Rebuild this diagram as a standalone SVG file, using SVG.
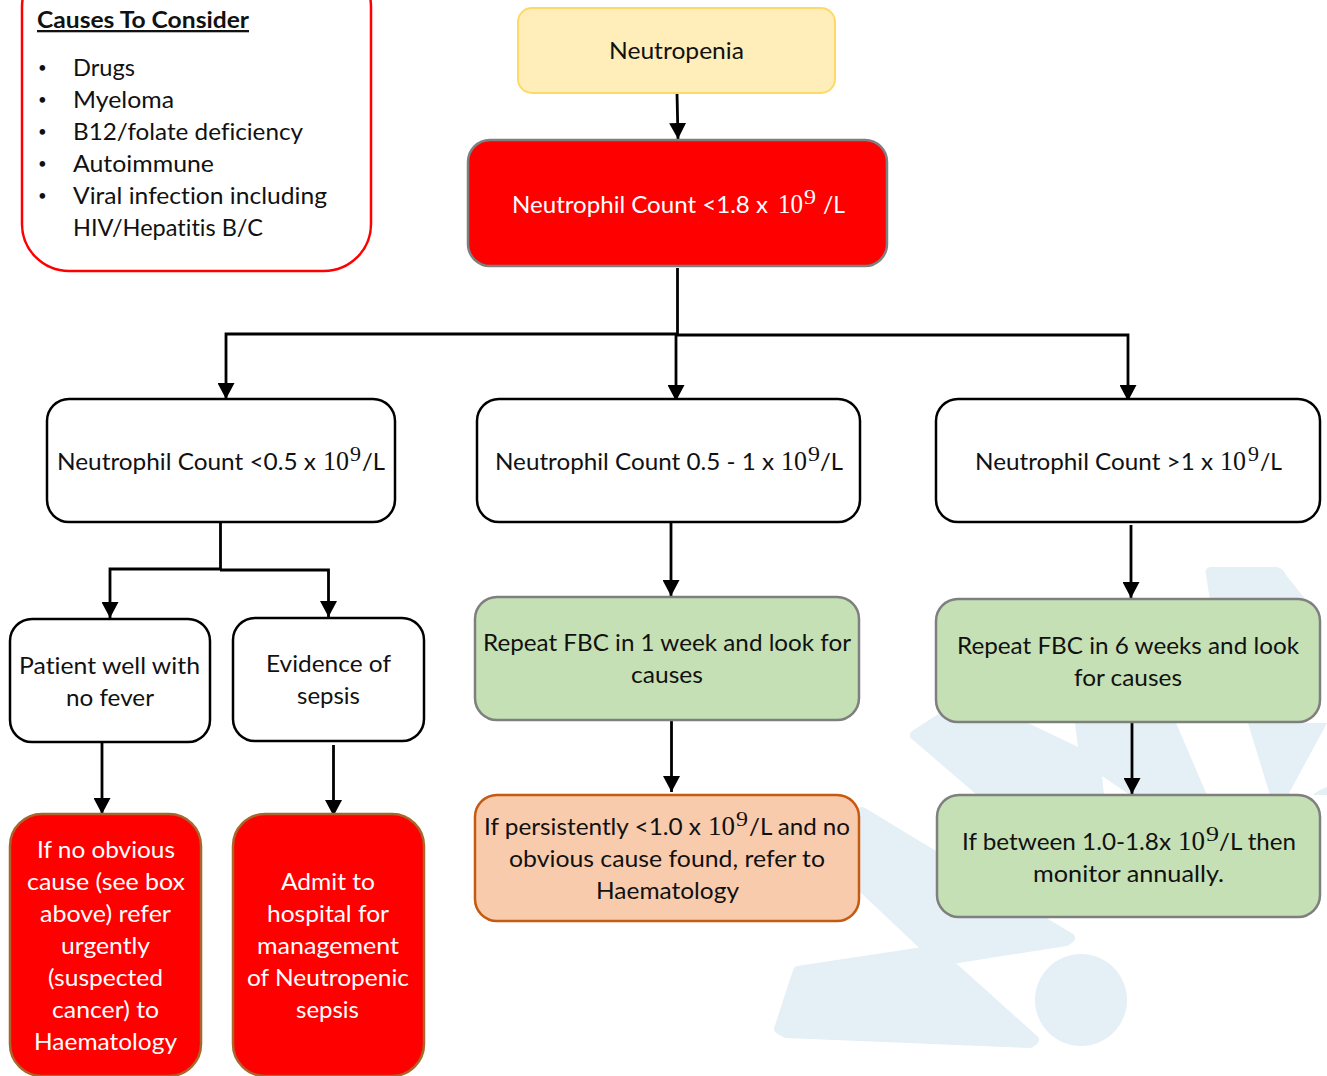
<svg xmlns="http://www.w3.org/2000/svg" width="1327" height="1076" viewBox="0 0 1327 1076">
<style>
text{font-family:Lato,"Open Sans","Liberation Sans",sans-serif;font-size:23px;fill:#111;font-variant-ligatures:none}
.w{fill:#fff}
.s{font-family:"Liberation Serif","DejaVu Serif",serif;font-size:27px}
.u{font-family:"Liberation Serif","DejaVu Serif",serif;font-size:20px}
.d{font-size:15px}
.bx{stroke-width:2.5}
.k{fill:#fff;stroke:#000}
.g{fill:#C5E0B4;stroke:#7F7F7F}
.r{fill:#FF0000;stroke:#A9652A}
.c{fill:none;stroke:#000;stroke-width:2.8}
.wf{fill:#E5EFF6}
.wm{fill:#E5EFF6;stroke:#E5EFF6;stroke-width:10;stroke-linejoin:round}
</style>
<defs>
<marker id="a" markerUnits="userSpaceOnUse" markerWidth="17" markerHeight="17" refX="16" refY="8.500" orient="auto"><path d="M0 0L16 8.500L0 17Z" fill="#000"/></marker>
</defs>
<rect width="1327" height="1076" fill="#fff"/>
<g id="watermark">
<path class="wm" d="M862 812L1070 938L1066 941L945 960L1034 1040L1030 1043L786 1033L779 1029L798 971L930 951L860 885Z"/>
<circle cx="1081" cy="1000" r="46" class="wf"/>
<path class="wf" d="M937 715L912 731Q907 736 913 740L977 795L1104 795L1102 776L1130 795L1207 795L1176 723L1075 723L1078 747L1028 723L985 700Z"/>
<path class="wf" d="M1206 575Q1204 567 1212 567L1277 567Q1283 568 1286 575L1306 600L1210 600Z"/>
<path class="wf" d="M1248 723L1270 795L1288 795L1327 723Z"/>
<path class="wf" d="M1313 795Q1318 790 1327 787V795Z"/>
</g>
<g id="connectors">
<path class="c" marker-end="url(#a)" d="M677 93L678 139"/>
<path class="c" d="M677.500 268V335"/>
<path class="c" marker-end="url(#a)" d="M677 334H226V399"/>
<path class="c" marker-end="url(#a)" d="M676 335V401"/>
<path class="c" marker-end="url(#a)" d="M677 335H1128V401"/>
<path class="c" d="M220.500 522V569"/>
<path class="c" marker-end="url(#a)" d="M220 569H110V618"/>
<path class="c" marker-end="url(#a)" d="M220 570H328.500V617"/>
<path class="c" marker-end="url(#a)" d="M102 742V814"/>
<path class="c" marker-end="url(#a)" d="M333.500 745V816"/>
<path class="c" marker-end="url(#a)" d="M671 522V596"/>
<path class="c" marker-end="url(#a)" d="M671.500 720V792"/>
<path class="c" marker-end="url(#a)" d="M1131 525V598"/>
<path class="c" marker-end="url(#a)" d="M1132 720V794"/>
</g>
<g id="causes">
<rect x="22" y="-40" width="349" height="311" rx="47" fill="#fff" stroke="#FF0000" stroke-width="2.500"/>
<text x="37" y="28" font-weight="700" text-decoration="underline" textLength="212" lengthAdjust="spacingAndGlyphs">Causes To Consider</text>
<text class="d" x="38" y="73">•</text><text x="73" y="76" textLength="62" lengthAdjust="spacingAndGlyphs">Drugs</text>
<text class="d" x="38" y="105">•</text><text x="73" y="108" textLength="101" lengthAdjust="spacingAndGlyphs">Myeloma</text>
<text class="d" x="38" y="137">•</text><text x="73" y="140" textLength="230" lengthAdjust="spacingAndGlyphs">B12/folate deficiency</text>
<text class="d" x="38" y="169">•</text><text x="73" y="172" textLength="141" lengthAdjust="spacingAndGlyphs">Autoimmune</text>
<text class="d" x="38" y="201">•</text><text x="73" y="204" textLength="254" lengthAdjust="spacingAndGlyphs">Viral infection including</text>
<text x="73" y="236" textLength="190" lengthAdjust="spacingAndGlyphs">HIV/Hepatitis B/C</text>
</g>
<g id="neutropenia">
<rect x="518" y="8" width="317" height="85" rx="14" fill="#FFEEBA" stroke="#FFD966" stroke-width="2"/>
<text x="609" y="59" textLength="135" lengthAdjust="spacingAndGlyphs">Neutropenia</text>
</g>
<g id="count-main">
<rect class="bx" x="468" y="140" width="419" height="126" rx="22" fill="#FF0000" stroke="#7F7F7F"/>
<text class="w" x="512" y="213" textLength="256" lengthAdjust="spacingAndGlyphs">Neutrophil Count &lt;1.8 x</text>
<text class="w s" x="778" y="213" textLength="25" lengthAdjust="spacingAndGlyphs">10</text>
<text class="w u" x="804" y="204" textLength="12" lengthAdjust="spacingAndGlyphs">9</text>
<text class="w" x="823" y="213" textLength="22" lengthAdjust="spacingAndGlyphs">/L</text>
</g>
<g id="count-low">
<rect class="bx k" x="47" y="399" width="348" height="123" rx="22"/>
<text x="57" y="470" textLength="259" lengthAdjust="spacingAndGlyphs">Neutrophil Count &lt;0.5 x</text>
<text class="s" x="323" y="470" textLength="26" lengthAdjust="spacingAndGlyphs">10</text>
<text class="u" x="350" y="461" textLength="11" lengthAdjust="spacingAndGlyphs">9</text>
<text x="362" y="470" textLength="23" lengthAdjust="spacingAndGlyphs">/L</text>
</g>
<g id="count-mid">
<rect class="bx k" x="477" y="399" width="383" height="123" rx="22"/>
<text x="495" y="470" textLength="279" lengthAdjust="spacingAndGlyphs">Neutrophil Count 0.5 - 1 x</text>
<text class="s" x="781" y="470" textLength="26" lengthAdjust="spacingAndGlyphs">10</text>
<text class="u" x="808" y="461" textLength="12" lengthAdjust="spacingAndGlyphs">9</text>
<text x="820" y="470" textLength="23" lengthAdjust="spacingAndGlyphs">/L</text>
</g>
<g id="count-high">
<rect class="bx k" x="936" y="399" width="384" height="123" rx="22"/>
<text x="975" y="470" textLength="238" lengthAdjust="spacingAndGlyphs">Neutrophil Count &gt;1 x</text>
<text class="s" x="1220" y="470" textLength="26" lengthAdjust="spacingAndGlyphs">10</text>
<text class="u" x="1248" y="461" textLength="11" lengthAdjust="spacingAndGlyphs">9</text>
<text x="1260" y="470" textLength="22" lengthAdjust="spacingAndGlyphs">/L</text>
</g>
<g id="well">
<rect class="bx k" x="10" y="619" width="200" height="123" rx="22"/>
<text x="19" y="674" textLength="181" lengthAdjust="spacingAndGlyphs">Patient well with</text>
<text x="66" y="706" textLength="88" lengthAdjust="spacingAndGlyphs">no fever</text>
</g>
<g id="sepsis">
<rect class="bx k" x="233" y="618" width="191" height="123" rx="22"/>
<text x="266" y="672" textLength="125" lengthAdjust="spacingAndGlyphs">Evidence of</text>
<text x="297" y="704" textLength="63" lengthAdjust="spacingAndGlyphs">sepsis</text>
</g>
<g id="refer-urgent">
<rect class="bx r" x="10" y="814" width="191" height="262" rx="32"/>
<text class="w" x="37" y="858" textLength="138" lengthAdjust="spacingAndGlyphs">If no obvious</text>
<text class="w" x="27" y="890" textLength="158" lengthAdjust="spacingAndGlyphs">cause (see box</text>
<text class="w" x="40" y="922" textLength="131" lengthAdjust="spacingAndGlyphs">above) refer</text>
<text class="w" x="61" y="954" textLength="89" lengthAdjust="spacingAndGlyphs">urgently</text>
<text class="w" x="48" y="986" textLength="115" lengthAdjust="spacingAndGlyphs">(suspected</text>
<text class="w" x="52" y="1018" textLength="107" lengthAdjust="spacingAndGlyphs">cancer) to</text>
<text class="w" x="34" y="1050" textLength="143" lengthAdjust="spacingAndGlyphs">Haematology</text>
</g>
<g id="admit">
<rect class="bx r" x="233" y="814" width="191" height="262" rx="32"/>
<text class="w" x="281" y="890" textLength="94" lengthAdjust="spacingAndGlyphs">Admit to</text>
<text class="w" x="267" y="922" textLength="122" lengthAdjust="spacingAndGlyphs">hospital for</text>
<text class="w" x="257" y="954" textLength="142" lengthAdjust="spacingAndGlyphs">management</text>
<text class="w" x="247" y="986" textLength="162" lengthAdjust="spacingAndGlyphs">of Neutropenic</text>
<text class="w" x="296" y="1018" textLength="63" lengthAdjust="spacingAndGlyphs">sepsis</text>
</g>
<g id="repeat-1">
<rect class="bx g" x="475" y="597" width="384" height="123" rx="22"/>
<text x="483" y="651" textLength="368" lengthAdjust="spacingAndGlyphs">Repeat FBC in 1 week and look for</text>
<text x="631" y="683" textLength="72" lengthAdjust="spacingAndGlyphs">causes</text>
</g>
<g id="refer-haem">
<rect class="bx" x="475" y="795" width="384" height="126" rx="22" fill="#F8CBAD" stroke="#C55A11"/>
<text x="484" y="835" textLength="217" lengthAdjust="spacingAndGlyphs">If persistently &lt;1.0 x</text>
<text class="s" x="708" y="835" textLength="27" lengthAdjust="spacingAndGlyphs">10</text>
<text class="u" x="736" y="826" textLength="12" lengthAdjust="spacingAndGlyphs">9</text>
<text x="749" y="835" textLength="101" lengthAdjust="spacingAndGlyphs">/L and no</text>
<text x="509" y="867" textLength="316" lengthAdjust="spacingAndGlyphs">obvious cause found, refer to</text>
<text x="596" y="899" textLength="143" lengthAdjust="spacingAndGlyphs">Haematology</text>
</g>
<g id="repeat-6">
<rect class="bx g" x="936" y="599" width="384" height="123" rx="22"/>
<text x="957" y="654" textLength="342" lengthAdjust="spacingAndGlyphs">Repeat FBC in 6 weeks and look</text>
<text x="1074" y="686" textLength="108" lengthAdjust="spacingAndGlyphs">for causes</text>
</g>
<g id="monitor">
<rect class="bx g" x="937" y="795" width="383" height="122" rx="22"/>
<text x="962" y="850" textLength="209" lengthAdjust="spacingAndGlyphs">If between 1.0-1.8x</text>
<text class="s" x="1178" y="850" textLength="27" lengthAdjust="spacingAndGlyphs">10</text>
<text class="u" x="1206" y="841" textLength="13" lengthAdjust="spacingAndGlyphs">9</text>
<text x="1219" y="850" textLength="77" lengthAdjust="spacingAndGlyphs">/L then</text>
<text x="1033" y="882" textLength="191" lengthAdjust="spacingAndGlyphs">monitor annually.</text>
</g>
</svg>
